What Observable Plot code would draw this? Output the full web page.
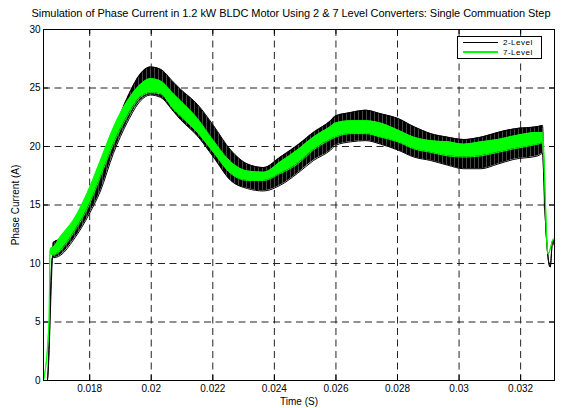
<!DOCTYPE html>
<html>
<head>
<meta charset="utf-8">
<script src="https://cdn.jsdelivr.net/npm/d3@7"></script>
<script src="https://cdn.jsdelivr.net/npm/@observablehq/plot@0.6"></script>
<style>
  body { margin: 0; background: #fff; }
  #wrap { position: relative; width: 563px; height: 408px; font-family: "Liberation Sans", Arial, Helvetica, sans-serif; }
  #title { position: absolute; top: 7px; left: 291px; transform: translateX(-50%); white-space: nowrap;
           font-size: 11px; letter-spacing: -0.05px; color: #000; line-height: 13px; }
  #chart { position: absolute; top: 22px; left: 0; }
  #legend { position: absolute; left: 457px; top: 36px; }
</style>
</head>
<body>
<div id="wrap">
  <div id="title"></div>
  <div id="chart"></div>
  <div id="legend"></div>
</div>
<script>
// Titles and axis labels
const titleText = "Simulation of Phase Current in 1.2 kW BLDC Motor Using 2 & 7 Level Converters: Single Commuation Step";
const xLabel = "Time (S)";
const yLabel = "Phase Current (A)";
const seriesNames = ["2-Level", "7-Level"];

// Axis ticks
const xTicks = [0.018, 0.02, 0.022, 0.024, 0.026, 0.028, 0.03, 0.032];
const yTicks = [0, 5, 10, 15, 20, 25, 30];
const xDomain = [0.0165, 0.0331];
const yDomain = [0, 30];

// 2-level converter: time (s) with lower / upper envelope of the switching ripple (A)
const twoT  = [0.0165, 0.01662, 0.01679, 0.01682, 0.01705, 0.01747, 0.0180, 0.01835, 0.01877, 0.01923,
               0.01965, 0.01997, 0.0203, 0.02072, 0.02095, 0.0215, 0.02202, 0.02258, 0.02313, 0.02365,
               0.0242, 0.02475, 0.02527, 0.02583, 0.02599, 0.02648, 0.02697, 0.02745, 0.02801, 0.02853,
               0.02908, 0.02963, 0.03015, 0.03071, 0.03126, 0.03178, 0.03256, 0.03271, 0.03279, 0.03296,
               0.03304, 0.0331];
const twoLo = [0, 0, 10.5, 10.5, 10.7, 12.0, 14.3, 16.2, 19.4, 22.1,
               23.9, 24.4, 24.2, 23.0, 22.3, 20.9, 19.1, 17.1, 16.4, 16.2,
               16.7, 17.7, 18.8, 19.7, 20.1, 20.4, 20.5, 20.2, 19.7, 19.1,
               18.8, 18.4, 18.1, 18.1, 18.5, 18.9, 19.2, 19.4, 14.5, 9.7,
               12.0, 11.5];
const twoHi = [0, 0, 10.5, 11.8, 12.1, 13.4, 16.0, 18.2, 21.2, 24.2,
               26.2, 26.8, 26.6, 25.5, 24.9, 23.6, 21.8, 19.7, 18.5, 18.2,
               19.1, 20.1, 21.2, 22.2, 22.6, 22.9, 23.1, 22.8, 22.4, 21.7,
               21.1, 20.8, 20.6, 20.8, 21.2, 21.5, 21.7, 21.8, 14.5, 9.7,
               12.0, 11.5];

// 7-level converter: time (s) with lower / upper envelope of the switching ripple (A)
const sevenT  = [0.0165, 0.01668, 0.01671, 0.01673, 0.01682, 0.01705, 0.01747, 0.0180, 0.01835, 0.01877,
                 0.01923, 0.01965, 0.01997, 0.0203, 0.02072, 0.02095, 0.0215, 0.02202, 0.02258, 0.02313,
                 0.02365, 0.0242, 0.02475, 0.02527, 0.02583, 0.02599, 0.02648, 0.02697, 0.02745, 0.02801,
                 0.02853, 0.02908, 0.02963, 0.03015, 0.03071, 0.03126, 0.03178, 0.03256, 0.03271, 0.03289,
                 0.03307, 0.0331];
const sevenLo = [0, 5.1, 10.8, 10.8, 10.7, 11.1, 12.6, 15.1, 17.4, 20.2,
                 22.6, 24.2, 24.6, 24.5, 23.2, 22.6, 21.2, 19.5, 17.7, 17.1,
                 17.1, 17.7, 18.5, 19.7, 20.6, 20.8, 21.1, 21.1, 20.8, 20.4,
                 19.8, 19.5, 19.2, 19.1, 19.2, 19.5, 19.8, 20.2, 20.3, 10.8,
                 12.1, 12.0];
const sevenHi = [0, 5.1, 10.8, 11.3, 11.4, 12.3, 13.7, 16.5, 18.8, 21.6,
                 23.9, 25.3, 25.8, 25.6, 24.5, 23.9, 22.4, 20.5, 18.7, 17.9,
                 17.8, 18.7, 19.7, 20.8, 21.7, 22.0, 22.2, 22.2, 22.0, 21.4,
                 20.8, 20.5, 20.4, 20.2, 20.4, 20.6, 20.9, 21.2, 21.2, 10.8,
                 12.1, 12.0];

const colors = ["#000000", "#00ff00"];

const two = twoT.map((t, i) => ({t, lo: twoLo[i], hi: twoHi[i]}));
const seven = sevenT.map((t, i) => ({t, lo: sevenLo[i], hi: sevenHi[i]}));

document.getElementById("title").textContent = titleText;

const W = 563, H = 386;
const mL = 43, mR = 9, mT = 7, mB = 28;
const frameW = W - mL - mR, frameH = H - mT - mB;
const tickLen = 5;
const curve = "monotone-x";
const gridStyle = {stroke: "#222", strokeWidth: 1, strokeDasharray: "7,4.5"};

const chart = Plot.plot({
  width: W,
  height: H,
  marginLeft: mL,
  marginRight: mR,
  marginTop: mT,
  marginBottom: mB,
  style: {fontFamily: '"Liberation Sans", Arial, Helvetica, sans-serif', fontSize: "10px", color: "#000", background: "#fff"},
  x: {domain: xDomain},
  y: {domain: yDomain},
  marks: [
    // dashed grid at interior ticks
    Plot.ruleX(xTicks, {...gridStyle}),
    Plot.ruleY(yTicks.filter(v => v > yDomain[0] && v < yDomain[1]), {...gridStyle}),

    // 2-level: switching ripple band (vertical-stroke texture) plus its envelope edges
    Plot.areaY(two, {x: "t", y1: "lo", y2: "hi", fill: "url(#ripple)", curve}),
    Plot.lineY(two, {x: "t", y: "lo", stroke: colors[0], strokeWidth: 1, curve}),
    Plot.lineY(two, {x: "t", y: "hi", stroke: colors[0], strokeWidth: 1, curve}),

    // 7-level: narrower ripple band
    Plot.areaY(seven, {x: "t", y1: "lo", y2: "hi", fill: colors[1], curve}),
    Plot.lineY(seven, {x: "t", y: "lo", stroke: colors[1], strokeWidth: 1, curve}),
    Plot.lineY(seven, {x: "t", y: "hi", stroke: colors[1], strokeWidth: 1, curve}),

    // axes box with inward ticks on all four sides
    Plot.frame({stroke: "#000", strokeWidth: 1}),
    Plot.ruleX(xTicks, {stroke: "#000", insetTop: frameH - tickLen}),
    Plot.ruleX(xTicks, {stroke: "#000", insetBottom: frameH - tickLen}),
    Plot.ruleY(yTicks, {stroke: "#000", insetRight: frameW - tickLen}),
    Plot.ruleY(yTicks, {stroke: "#000", insetLeft: frameW - tickLen}),

    Plot.axisX({ticks: xTicks, tickSize: 0, tickPadding: 4, tickFormat: d => String(d),
                label: xLabel, labelAnchor: "center", labelArrow: "none", labelOffset: 24}),
    Plot.axisY({ticks: yTicks, tickSize: 0, tickPadding: 3, tickFormat: d => String(d),
                label: yLabel, labelAnchor: "center", labelArrow: "none", labelOffset: 32})
  ]
});

// texture for the 2-level ripple band: dense black strokes with thin light gaps
const defs = d3.select(chart).insert("defs", ":first-child");
const pat = defs.append("pattern").attr("id", "ripple").attr("patternUnits", "userSpaceOnUse")
  .attr("width", 4).attr("height", 6);
pat.append("rect").attr("width", 4).attr("height", 6).attr("fill", "#000");
pat.append("rect").attr("x", 2).attr("width", 0.6).attr("height", 6).attr("fill", "#fff").attr("opacity", 0.45);

document.getElementById("chart").appendChild(chart);

// legend box with line swatches
const lg = d3.select("#legend").append("svg").attr("width", 85).attr("height", 23);
lg.append("rect").attr("x", 0.5).attr("y", 0.5).attr("width", 84).attr("height", 22)
  .attr("fill", "#fff").attr("stroke", "#000");
seriesNames.forEach((name, i) => {
  const y = 6.5 + i * 9.5;
  lg.append("line").attr("x1", 6).attr("x2", 41).attr("y1", y).attr("y2", y)
    .attr("stroke", colors[i]).attr("stroke-width", i === 1 ? 2 : 1);
  lg.append("text").attr("x", 46).attr("y", y).attr("dy", "0.35em")
    .attr("font-family", '"Liberation Sans", Arial, sans-serif').attr("font-size", 8)
    .attr("letter-spacing", 0.5).text(name);
});
</script>
</body>
</html>
